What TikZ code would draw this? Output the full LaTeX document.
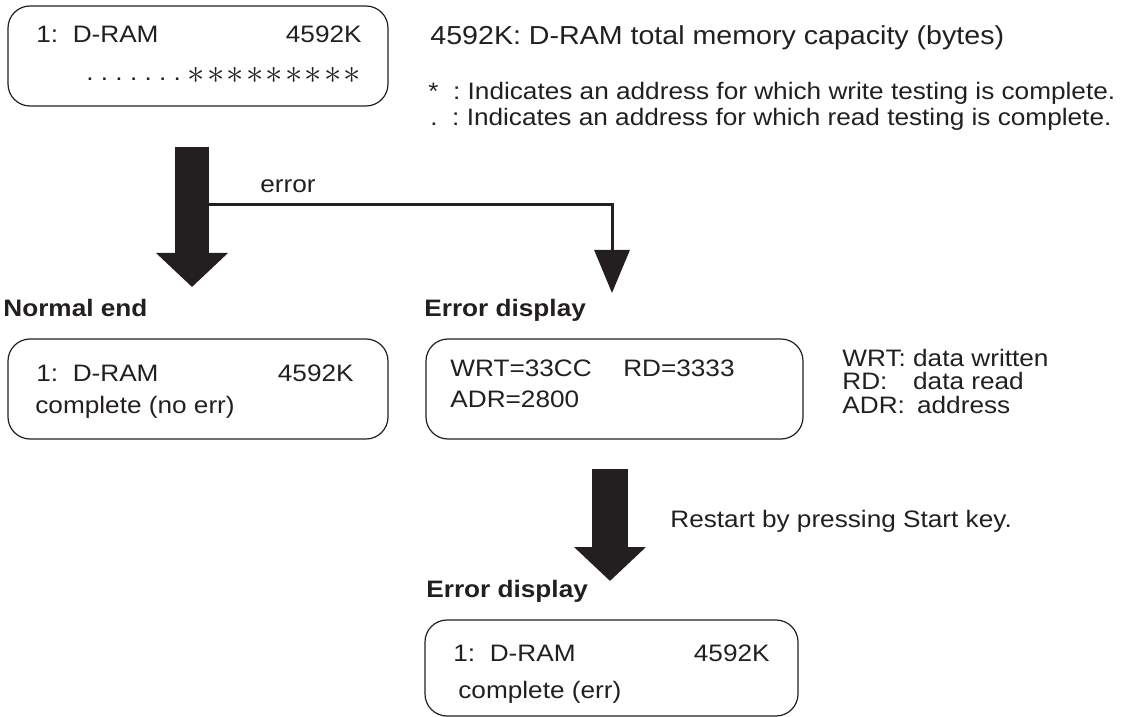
\documentclass[tikz,border=0pt]{standalone}
\usepackage{fontspec}
\setmainfont{Liberation Sans}[FakeStretch=1.1]
\usepackage{tikz}
\usetikzlibrary{arrows.meta,positioning}
\definecolor{ink}{RGB}{35,31,32}

\begin{document}
\frenchspacing
\begin{tikzpicture}[x=0.5pt,y=-0.5pt,font=\fontsize{11.9}{13}\selectfont,color=ink,text=ink,
panel/.style={draw=ink,line width=0.6pt,rounded corners=11pt,minimum width=190pt,minimum height=50pt,inner sep=0pt},
txt/.style={anchor=base west,inner sep=0pt},
rtxt/.style={anchor=base east,inner sep=0pt},
title/.style={anchor=base west,inner sep=0pt,font=\fontsize{11.9}{13}\selectfont\bfseries},
bigarr/.style={draw=ink,line width=17pt,-{Triangle[length=17pt,width=35pt]}},
thinarr/.style={draw=ink,line width=1.5pt,-{Triangle[length=21.5pt,width=17.5pt]}},
asterisk/.style={inner sep=0pt,font=\fontsize{17.28}{17}\selectfont}]
\useasboundingbox (0,0) rectangle (1137,717);
\node[panel] (testbox) at (198,56) {};
\node[txt] (tname) at (36,43) {1:\ \ D-RAM};
\node[rtxt] (tsize) at (362,43) {4592K};
\node[txt] (tdots) at (86,81) {.\ .\ .\ .\ .\ .\ .};
\foreach \i in {0,...,8} \node[asterisk] (ast\i) at (196.5+19.5*\i,75) {$\ast$};
\node[txt,font=\fontsize{13}{14}\selectfont] (capnote) at (430,45) {4592K: D-RAM total memory capacity (bytes)};
\node[txt] (wrnote) at (428,100) {*\ \ : Indicates an address for which write testing is complete.};
\node[txt] (rdnote) at (430,126) {.\ \ : Indicates an address for which read testing is complete.};
\coordinate (a1top) at (192,147);
\coordinate (a1tip) at (192,287);
\coordinate (errfrom) at (192,205);
\coordinate (errtip) at (612,293);
\draw[bigarr] (a1top) -- (a1tip);
\draw[thinarr] (errfrom) -| (errtip);
\node[txt] (errlabel) at (260,193) {error};
\node[title] (normtitle) at (3,316) {Normal end};
\node[panel] (normbox) at (198,389) {};
\node[txt] (nname) at (36,381) {1:\ \ D-RAM};
\node[rtxt] (nsize) at (354,381) {4592K};
\node[txt] (nstate) at (35,413) {complete (no err)};
\node[title] (errtitle) at (424,316) {Error display};
\node[panel,minimum width=188.5pt] (errbox) at (614.5,389) {};
\node[txt] (wrt) at (450,376) {WRT=33CC};
\node[rtxt] (rd) at (735,376) {RD=3333};
\node[txt] (adr) at (450,408) {ADR=2800};
\node[txt] (legend) at (842,366) {\fontsize{11.9}{11.25}\selectfont\begin{tabular}[t]{@{}l@{\ }l@{}}WRT: & data written\\ RD: & data read\\ ADR: & \,address\end{tabular}};
\coordinate (a3top) at (610,469);
\coordinate (a3tip) at (610,581);
\draw[bigarr,line width=18pt] (a3top) -- (a3tip);
\node[txt] (restart) at (670,527) {Restart by pressing Start key.};
\node[title] (errtitle2) at (426,597) {Error display};
\node[panel,minimum width=186.5pt,minimum height=48pt] (finbox) at (611.5,668) {};
\node[txt] (fname) at (453,661) {1:\ \ D-RAM};
\node[rtxt] (fsize) at (770,661) {4592K};
\node[txt] (fstate) at (458,698) {complete (err)};
\end{tikzpicture}
\end{document}
